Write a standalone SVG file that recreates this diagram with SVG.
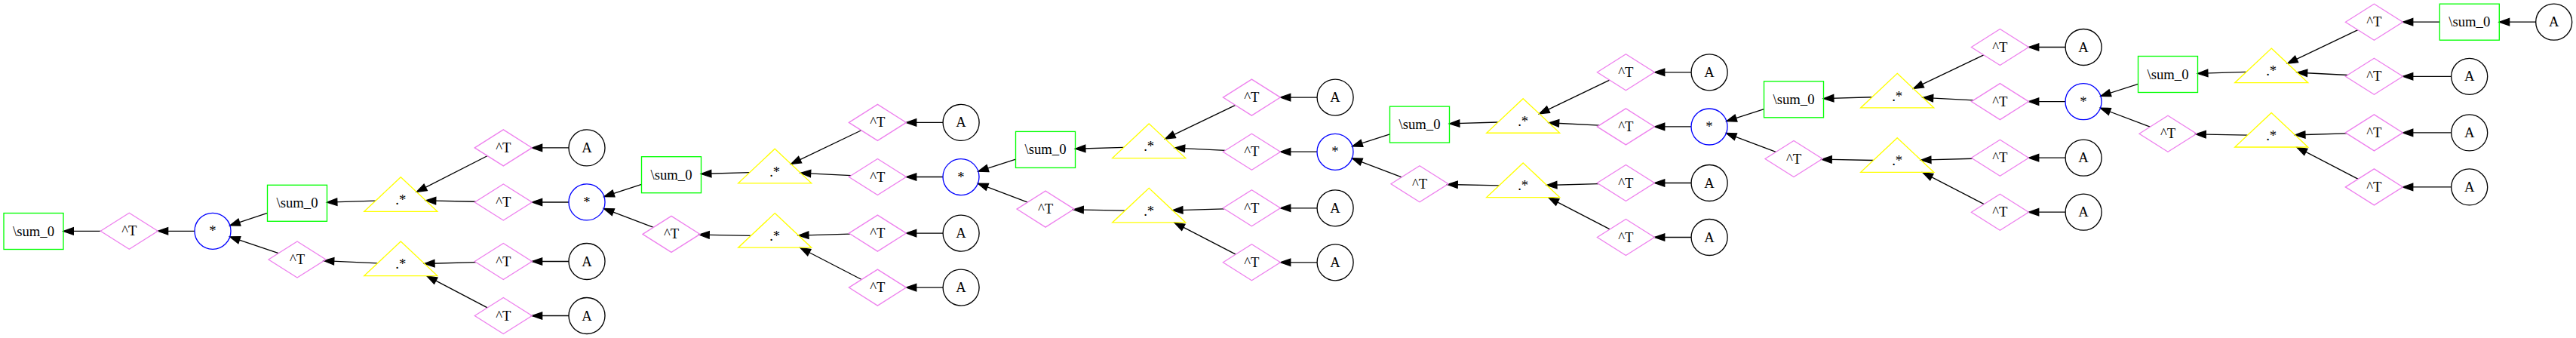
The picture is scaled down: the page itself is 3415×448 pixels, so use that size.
<svg xmlns="http://www.w3.org/2000/svg" xmlns:xlink="http://www.w3.org/1999/xlink" width="3415" height="448" viewBox="0 0 3415 448">
<style>
.box{fill:none;stroke:#00ff00;stroke-width:1.33}
.dia{fill:none;stroke:#ee82ee;stroke-width:1.33}
.mul{fill:none;stroke:#0000ff;stroke-width:1.33}
.a{fill:none;stroke:#000;stroke-width:1.33}
.tri{fill:none;stroke:#ffff00;stroke-width:1.33}
text{font-family:"Liberation Serif","Times New Roman",serif;font-size:18.67px;text-anchor:middle;fill:#000}
#connectors path{fill:none;stroke:#000;stroke-width:1.33;marker-end:url(#ah)}
</style>
<defs>
<marker id="ah" markerUnits="userSpaceOnUse" viewBox="-2 -7 18 14" markerWidth="18" markerHeight="14" refX="13.33" refY="0" orient="auto"><path d="M0,-4.67 L13.33,0 L0,4.67 z" fill="#000" stroke="#000" stroke-width="1.33"/></marker>
<rect id="s-box" class="box" x="-39.5" y="-24" width="79" height="48"/>
<polygon id="s-dia" class="dia" points="-38,0 0,-24 38,0 0,24"/>
<circle id="s-mul" class="mul" r="24"/>
<circle id="s-a" class="a" r="24"/>
<polygon id="s-tri" class="tri" points="0,-30.4 48.5,15.2 -48.5,15.2"/>
</defs>
<rect width="3415" height="448" fill="#fff"/>
<g id="connectors">
<g id="edges-0">
<path d="M133.3,306.4 L84,306.4"/>
<path d="M258,306.3 L209.3,306.3"/>
<path d="M354.5,282.35 L304.79,298.77"/>
<path d="M369.2,335.66 L304.75,313.96"/>
<path d="M497.9,266.1 L433.5,268.1"/>
<path d="M500.5,348.96 L429.38,345.65"/>
<path d="M646.3,206.5 L552.3,254.4"/>
<path d="M630.54,267.22 L564.4,265.8"/>
<path d="M630.95,347.54 L562.67,349.5"/>
<path d="M646.1,407.9 L566,365.9"/>
<path d="M754,195.9 L705.3,195.9"/>
<path d="M754,268 L705.3,268"/>
<path d="M754,346.5 L705.3,346.5"/>
<path d="M754,418.5 L705.3,418.5"/>
</g>
<g id="edges-1" transform="translate(890,231.7)">
<path d="M-39.5,12.77 L-89.16,28.82"/>
<path d="M-23.74,69.69 L-89.56,44.72"/>
<path d="M103.8,-3.07 L39.5,-1.17"/>
<path d="M105.5,80.7 L36.9,79.4"/>
<path d="M251.8,-58.95 L158.6,-14.31"/>
<path d="M238.2,1 L171.3,-2.36"/>
<path d="M237.05,78.44 L168.58,80.4"/>
<path d="M252.2,138.8 L171,96.8"/>
<path d="M360.1,-69.3 L311.4,-69.3"/>
<path d="M360.1,2.8 L311.4,2.8"/>
<path d="M360.1,77.4 L311.4,77.4"/>
<path d="M360.1,149.4 L311.4,149.4"/>
</g>
<g id="edges-2" transform="translate(1386,198.4)">
<path d="M-39.5,12.77 L-89.16,28.82"/>
<path d="M-23.74,69.69 L-89.56,44.72"/>
<path d="M103.8,-3.07 L39.5,-1.17"/>
<path d="M105.5,80.7 L36.9,79.4"/>
<path d="M251.8,-58.95 L158.6,-14.31"/>
<path d="M238.2,1 L171.3,-2.36"/>
<path d="M237.05,78.44 L168.58,80.4"/>
<path d="M252.2,138.8 L171,96.8"/>
<path d="M360.1,-69.3 L311.4,-69.3"/>
<path d="M360.1,2.8 L311.4,2.8"/>
<path d="M360.1,77.4 L311.4,77.4"/>
<path d="M360.1,149.4 L311.4,149.4"/>
</g>
<g id="edges-3" transform="translate(1882,165.1)">
<path d="M-39.5,12.77 L-89.16,28.82"/>
<path d="M-23.74,69.69 L-89.56,44.72"/>
<path d="M103.8,-3.07 L39.5,-1.17"/>
<path d="M105.5,80.7 L36.9,79.4"/>
<path d="M251.8,-58.95 L158.6,-14.31"/>
<path d="M238.2,1 L171.3,-2.36"/>
<path d="M237.05,78.44 L168.58,80.4"/>
<path d="M252.2,138.8 L171,96.8"/>
<path d="M360.1,-69.3 L311.4,-69.3"/>
<path d="M360.1,2.8 L311.4,2.8"/>
<path d="M360.1,77.4 L311.4,77.4"/>
<path d="M360.1,149.4 L311.4,149.4"/>
</g>
<g id="edges-4" transform="translate(2378,131.8)">
<path d="M-39.5,12.77 L-89.16,28.82"/>
<path d="M-23.74,69.69 L-89.56,44.72"/>
<path d="M103.8,-3.07 L39.5,-1.17"/>
<path d="M105.5,80.7 L36.9,79.4"/>
<path d="M251.8,-58.95 L158.6,-14.31"/>
<path d="M238.2,1 L171.3,-2.36"/>
<path d="M237.05,78.44 L168.58,80.4"/>
<path d="M252.2,138.8 L171,96.8"/>
<path d="M360.1,-69.3 L311.4,-69.3"/>
<path d="M360.1,2.8 L311.4,2.8"/>
<path d="M360.1,77.4 L311.4,77.4"/>
<path d="M360.1,149.4 L311.4,149.4"/>
</g>
<g id="edges-5" transform="translate(2874,98.5)">
<path d="M-39.5,12.77 L-89.16,28.82"/>
<path d="M-23.74,69.69 L-89.56,44.72"/>
<path d="M103.8,-3.07 L39.5,-1.17"/>
<path d="M105.5,80.7 L36.9,79.4"/>
<path d="M251.8,-58.95 L158.6,-14.31"/>
<path d="M238.2,1 L171.3,-2.36"/>
<path d="M237.05,78.44 L168.58,80.4"/>
<path d="M252.2,138.8 L171,96.8"/>
<path d="M360.3,-69.3 L311.4,-69.3"/>
<path d="M487.7,-69.3 L439.3,-69.3"/>
<path d="M375.7,2.8 L311.4,2.8"/>
<path d="M375.7,77.4 L311.4,77.4"/>
<path d="M375.7,149.4 L311.4,149.4"/>
</g>
</g>
<g id="nodes">
<g id="n0_sum_root" transform="translate(44.5,306.5)"><use xlink:href="#s-box"/><text y="6">\sum_0</text></g>
<g id="n0_t_root" transform="translate(171.3,306.3)"><use xlink:href="#s-dia"/><text y="6">^T</text></g>
<g id="n0_mul" transform="translate(282,306.3)"><use xlink:href="#s-mul"/><text y="6">*</text></g>
<g id="n0_sum" transform="translate(394,269.3)"><use xlink:href="#s-box"/><text y="6">\sum_0</text></g>
<g id="n0_tb" transform="translate(394,344)"><use xlink:href="#s-dia"/><text y="6">^T</text></g>
<g id="n0_du" transform="translate(531.3,265.1)"><use xlink:href="#s-tri"/><text y="6">.*</text></g>
<g id="n0_dl" transform="translate(531.3,350.4)"><use xlink:href="#s-tri"/><text y="6">.*</text></g>
<g id="n0_tu" transform="translate(667.3,195.9)"><use xlink:href="#s-dia"/><text y="6">^T</text></g>
<g id="n0_au" transform="translate(778,195.9)"><use xlink:href="#s-a"/><text y="6">A</text></g>
<g id="n0_tm" transform="translate(667.3,268)"><use xlink:href="#s-dia"/><text y="6">^T</text></g>
<g id="n0_t3" transform="translate(667.3,346.5)"><use xlink:href="#s-dia"/><text y="6">^T</text></g>
<g id="n0_a3" transform="translate(778,346.5)"><use xlink:href="#s-a"/><text y="6">A</text></g>
<g id="n0_t4" transform="translate(667.3,418.5)"><use xlink:href="#s-dia"/><text y="6">^T</text></g>
<g id="n0_a4" transform="translate(778,418.5)"><use xlink:href="#s-a"/><text y="6">A</text></g>
<g id="n1_mul" transform="translate(778,267.9)"><use xlink:href="#s-mul"/><text y="6">*</text></g>

<g id="n1_sum" transform="translate(890,231.7)"><use xlink:href="#s-box"/><text y="6">\sum_0</text></g>
<g id="n1_tb" transform="translate(890,310.4)"><use xlink:href="#s-dia"/><text y="6">^T</text></g>
<g id="n1_du" transform="translate(1027.2,227.65)"><use xlink:href="#s-tri"/><text y="6">.*</text></g>
<g id="n1_dl" transform="translate(1027.2,313)"><use xlink:href="#s-tri"/><text y="6">.*</text></g>
<g id="n1_tu" transform="translate(1163.4,162.4)"><use xlink:href="#s-dia"/><text y="6">^T</text></g>
<g id="n1_au" transform="translate(1274.1,162.4)"><use xlink:href="#s-a"/><text y="6">A</text></g>
<g id="n1_tm" transform="translate(1163.4,234.5)"><use xlink:href="#s-dia"/><text y="6">^T</text></g>
<g id="n1_t3" transform="translate(1163.4,309.1)"><use xlink:href="#s-dia"/><text y="6">^T</text></g>
<g id="n1_a3" transform="translate(1274.1,309.1)"><use xlink:href="#s-a"/><text y="6">A</text></g>
<g id="n1_t4" transform="translate(1163.4,381.1)"><use xlink:href="#s-dia"/><text y="6">^T</text></g>
<g id="n1_a4" transform="translate(1274.1,381.1)"><use xlink:href="#s-a"/><text y="6">A</text></g>
<g id="n2_mul" transform="translate(1274,234.6)"><use xlink:href="#s-mul"/><text y="6">*</text></g>

<g id="n2_sum" transform="translate(1386,198.4)"><use xlink:href="#s-box"/><text y="6">\sum_0</text></g>
<g id="n2_tb" transform="translate(1386,277.1)"><use xlink:href="#s-dia"/><text y="6">^T</text></g>
<g id="n2_du" transform="translate(1523.2,194.35)"><use xlink:href="#s-tri"/><text y="6">.*</text></g>
<g id="n2_dl" transform="translate(1523.2,279.7)"><use xlink:href="#s-tri"/><text y="6">.*</text></g>
<g id="n2_tu" transform="translate(1659.4,129.1)"><use xlink:href="#s-dia"/><text y="6">^T</text></g>
<g id="n2_au" transform="translate(1770.1,129.1)"><use xlink:href="#s-a"/><text y="6">A</text></g>
<g id="n2_tm" transform="translate(1659.4,201.2)"><use xlink:href="#s-dia"/><text y="6">^T</text></g>
<g id="n2_t3" transform="translate(1659.4,275.8)"><use xlink:href="#s-dia"/><text y="6">^T</text></g>
<g id="n2_a3" transform="translate(1770.1,275.8)"><use xlink:href="#s-a"/><text y="6">A</text></g>
<g id="n2_t4" transform="translate(1659.4,347.8)"><use xlink:href="#s-dia"/><text y="6">^T</text></g>
<g id="n2_a4" transform="translate(1770.1,347.8)"><use xlink:href="#s-a"/><text y="6">A</text></g>
<g id="n3_mul" transform="translate(1770,201.3)"><use xlink:href="#s-mul"/><text y="6">*</text></g>

<g id="n3_sum" transform="translate(1882,165.1)"><use xlink:href="#s-box"/><text y="6">\sum_0</text></g>
<g id="n3_tb" transform="translate(1882,243.8)"><use xlink:href="#s-dia"/><text y="6">^T</text></g>
<g id="n3_du" transform="translate(2019.2,161.05)"><use xlink:href="#s-tri"/><text y="6">.*</text></g>
<g id="n3_dl" transform="translate(2019.2,246.4)"><use xlink:href="#s-tri"/><text y="6">.*</text></g>
<g id="n3_tu" transform="translate(2155.4,95.8)"><use xlink:href="#s-dia"/><text y="6">^T</text></g>
<g id="n3_au" transform="translate(2266.1,95.8)"><use xlink:href="#s-a"/><text y="6">A</text></g>
<g id="n3_tm" transform="translate(2155.4,167.9)"><use xlink:href="#s-dia"/><text y="6">^T</text></g>
<g id="n3_t3" transform="translate(2155.4,242.5)"><use xlink:href="#s-dia"/><text y="6">^T</text></g>
<g id="n3_a3" transform="translate(2266.1,242.5)"><use xlink:href="#s-a"/><text y="6">A</text></g>
<g id="n3_t4" transform="translate(2155.4,314.5)"><use xlink:href="#s-dia"/><text y="6">^T</text></g>
<g id="n3_a4" transform="translate(2266.1,314.5)"><use xlink:href="#s-a"/><text y="6">A</text></g>
<g id="n4_mul" transform="translate(2266,168)"><use xlink:href="#s-mul"/><text y="6">*</text></g>

<g id="n4_sum" transform="translate(2378,131.8)"><use xlink:href="#s-box"/><text y="6">\sum_0</text></g>
<g id="n4_tb" transform="translate(2378,210.5)"><use xlink:href="#s-dia"/><text y="6">^T</text></g>
<g id="n4_du" transform="translate(2515.2,127.75)"><use xlink:href="#s-tri"/><text y="6">.*</text></g>
<g id="n4_dl" transform="translate(2515.2,213.1)"><use xlink:href="#s-tri"/><text y="6">.*</text></g>
<g id="n4_tu" transform="translate(2651.4,62.5)"><use xlink:href="#s-dia"/><text y="6">^T</text></g>
<g id="n4_au" transform="translate(2762.1,62.5)"><use xlink:href="#s-a"/><text y="6">A</text></g>
<g id="n4_tm" transform="translate(2651.4,134.6)"><use xlink:href="#s-dia"/><text y="6">^T</text></g>
<g id="n4_t3" transform="translate(2651.4,209.2)"><use xlink:href="#s-dia"/><text y="6">^T</text></g>
<g id="n4_a3" transform="translate(2762.1,209.2)"><use xlink:href="#s-a"/><text y="6">A</text></g>
<g id="n4_t4" transform="translate(2651.4,281.2)"><use xlink:href="#s-dia"/><text y="6">^T</text></g>
<g id="n4_a4" transform="translate(2762.1,281.2)"><use xlink:href="#s-a"/><text y="6">A</text></g>
<g id="n5_mul" transform="translate(2762,134.7)"><use xlink:href="#s-mul"/><text y="6">*</text></g>

<g id="n5_sum" transform="translate(2874,98.5)"><use xlink:href="#s-box"/><text y="6">\sum_0</text></g>
<g id="n5_tb" transform="translate(2874,177.2)"><use xlink:href="#s-dia"/><text y="6">^T</text></g>
<g id="n5_du" transform="translate(3011.2,94.45)"><use xlink:href="#s-tri"/><text y="6">.*</text></g>
<g id="n5_dl" transform="translate(3011.2,179.8)"><use xlink:href="#s-tri"/><text y="6">.*</text></g>
<g id="n5_tu" transform="translate(3147.4,29.2)"><use xlink:href="#s-dia"/><text y="6">^T</text></g>
<g id="n5_stop" transform="translate(3273.8,29.2)"><use xlink:href="#s-box"/><text y="6">\sum_0</text></g>
<g id="n5_atop" transform="translate(3385.7,29.2)"><use xlink:href="#s-a"/><text y="6">A</text></g>
<g id="n5_tm" transform="translate(3147.4,101.3)"><use xlink:href="#s-dia"/><text y="6">^T</text></g>
<g id="n5_am" transform="translate(3273.7,101.3)"><use xlink:href="#s-a"/><text y="6">A</text></g>
<g id="n5_t3" transform="translate(3147.4,175.9)"><use xlink:href="#s-dia"/><text y="6">^T</text></g>
<g id="n5_a3" transform="translate(3273.7,175.9)"><use xlink:href="#s-a"/><text y="6">A</text></g>
<g id="n5_t4" transform="translate(3147.4,247.9)"><use xlink:href="#s-dia"/><text y="6">^T</text></g>
<g id="n5_a4" transform="translate(3273.7,247.9)"><use xlink:href="#s-a"/><text y="6">A</text></g>
</g>
</svg>
